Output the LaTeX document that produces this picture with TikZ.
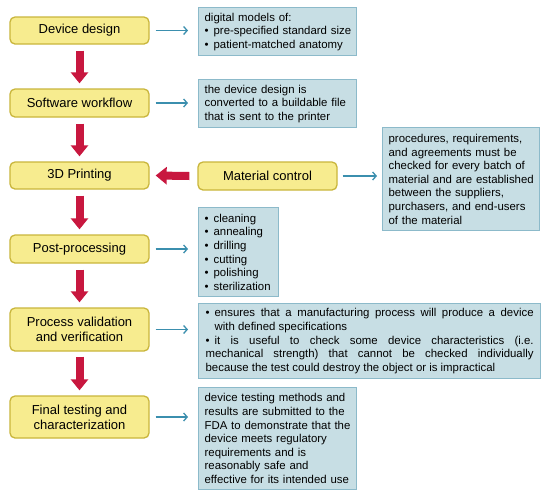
\documentclass[tikz,border=0pt]{standalone}
\usepackage{fontspec}
\setmainfont{Liberation Sans}
\usetikzlibrary{arrows.meta,calc}
\definecolor{yfill}{HTML}{F7EC8F}
\definecolor{ydraw}{HTML}{C9B63C}
\definecolor{bfill}{HTML}{C7DEE4}
\definecolor{bdraw}{HTML}{8CBACA}
\definecolor{redarr}{HTML}{C8173F}
\definecolor{bluearr}{HTML}{3B8FAE}
\newcommand\mybul{\makebox[9pt][l]{\textbullet}}
\newcommand\oneline[1]{\mbox{#1}}
\begin{document}
\begin{tikzpicture}[x=1pt,y=-1pt,
  stage/.style={draw=ydraw, fill=yfill, line width=1.3pt, rounded corners=5pt,
    minimum width=139pt, align=center, inner sep=0pt,
    font=\fontsize{13}{15.3}\selectfont},
  note/.style={draw=bdraw, fill=bfill, line width=1.3pt, anchor=north west,
    inner xsep=6pt, inner ysep=0pt, align=left,
    font=\fontsize{11.4}{13.6}\selectfont},
  flow/.style={draw=redarr, line width=8pt, -{Triangle[length=11pt,width=17pt]}},
  link/.style={draw=bluearr, line width=1.3pt, -{Straight Barb[length=3.5pt,width=8pt]}}
]
\fill[white] (0,0) rectangle (550,499);
\useasboundingbox (0,0) rectangle (550,499);

% process stages
\node[stage, minimum height=27pt] (dd) at (79.5,30.5) {Device design};
\node[stage, minimum height=28pt] (sw) at (79.5,103) {Software workflow};
\node[stage, minimum height=27pt] (pr) at (79.5,175.5) {3D Printing};
\node[stage, minimum height=28pt] (pp) at (79.5,249) {Post-processing};
\node[stage, minimum height=43pt] (pv) at (79.5,329.5) {Process validation\\and verification};
\node[stage, minimum height=42pt] (ft) at (79.5,417) {Final testing and\\characterization};
\node[stage, minimum height=28pt] (mc) at (267.5,176) {Material control};

% notes
\node[note, minimum width=158pt, minimum height=48pt, text width=146pt] (n1) at (198,7)
  {\oneline{digital models of:}\\\oneline{\mybul pre-specified standard size}\\\oneline{\mybul patient-matched anatomy}};
\node[note, minimum width=158pt, minimum height=48pt, text width=146pt] (n2) at (198,79)
  {\oneline{the device design is}\\\oneline{converted to a buildable file}\\\oneline{that is sent to the printer}};
\node[note, minimum width=157pt, minimum height=103pt, text width=145pt] (n3) at (382,127)
  {\oneline{procedures, requirements,}\\\oneline{and agreements must be}\\\oneline{checked for every batch of}\\\oneline{material and are established}\\\oneline{between the suppliers,}\\\oneline{purchasers, and end-users}\\\oneline{of the material}};
\node[note, minimum width=80pt, minimum height=89pt, text width=68pt] (n4) at (198,207)
  {\mybul cleaning\\\mybul annealing\\\mybul drilling\\\mybul cutting\\\mybul polishing\\\mybul sterilization};
\node[note, minimum width=342pt, minimum height=75pt, text width=328pt, inner xsep=7pt, align=justify] (n5) at (198,303)
  {\tolerance=10000\hbadness=10000\noindent\hangindent=9pt\hangafter=1\mybul ensures that a manufacturing process will produce a device\linebreak with defined specifications\par
   \noindent\hangindent=9pt\hangafter=1\mybul it is useful to check some device characteristics (i.e.\linebreak mechanical strength) that cannot be checked individually\linebreak because the test could destroy the object or is impractical};
\node[note, minimum width=158pt, minimum height=102pt, text width=146pt] (n6) at (198,387)
  {\oneline{device testing methods and}\\\oneline{results are submitted to the}\\\oneline{FDA to demonstrate that the}\\\oneline{device meets regulatory}\\\oneline{requirements and is}\\\oneline{reasonably safe and}\\\oneline{effective for its intended use}};

% main flow
\draw[flow] ($(dd.south)+(0,6)$) -- ($(sw.north)+(0,-5)$);
\draw[flow] ($(sw.south)+(0,6)$) -- ($(pr.north)+(0,-5)$);
\draw[flow] ($(pr.south)+(0,6)$) -- ($(pp.north)+(0,-5)$);
\draw[flow] ($(pp.south)+(0,6)$) -- ($(pv.north)+(0,-5)$);
\draw[flow] ($(pv.south)+(0,5)$) -- ($(ft.north)+(0,-5)$);
\draw[flow] ($(mc.west)+(-8,0)$) -- ($(pr.east)+(6,0)$);

% explanatory links
\draw[link] ($(dd.east)+(6,0)$) -- ($(n1.west |- dd.east)+(-10,0)$);
\draw[link] ($(sw.east)+(6,0)$) -- ($(n2.west |- sw.east)+(-10,0)$);
\draw[link] ($(pp.east)+(6,0)$) -- ($(n4.west |- pp.east)+(-10,0)$);
\draw[link] ($(pv.east)+(6,0)$) -- ($(n5.west |- pv.east)+(-10,0)$);
\draw[link] ($(ft.east)+(6,0)$) -- ($(n6.west |- ft.east)+(-10,0)$);
\draw[link] ($(mc.east)+(5,0)$) -- ($(n3.west |- mc.east)+(-5,0)$);
\end{tikzpicture}
\end{document}
